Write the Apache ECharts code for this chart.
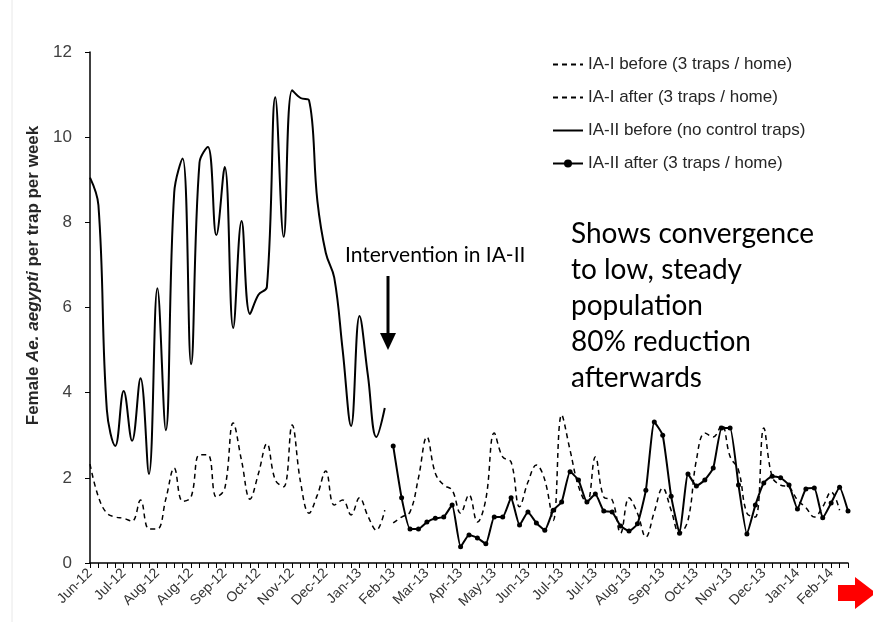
<!DOCTYPE html>
<html>
<head>
<meta charset="utf-8">
<script src="https://cdn.jsdelivr.net/npm/echarts@6/dist/echarts.min.js"></script>
<style>
  html, body { margin: 0; padding: 0; background: #fff; }
  #chart { width: 873px; height: 622px; }
</style>
</head>
<body>
<div id="chart"></div>
<script>
// tick labels, one every 4 weeks
var tickLabels = ['Jun-12', 'Jul-12', 'Aug-12', 'Aug-12', 'Sep-12', 'Oct-12', 'Nov-12', 'Dec-12',
  'Jan-13', 'Feb-13', 'Mar-13', 'Apr-13', 'May-13', 'Jun-13', 'Jul-13', 'Jul-13', 'Aug-13',
  'Sep-13', 'Oct-13', 'Nov-13', 'Dec-13', 'Jan-14', 'Feb-14']
var weekCount = 91

// IA-I before (week 0 - 35)
var iaiBefore = [2.32, 1.55, 1.17, 1.08, 1.05, 0.98, 1.48, 0.8, 0.8, 1.5, 2.23, 1.45, 1.55, 2.54,
  2.54, 1.55, 1.75, 3.29, 2.4, 1.5, 2.1, 2.8, 1.95, 1.79, 3.24, 1.9, 1.17, 1.6, 2.16, 1.36, 1.48,
  1.13, 1.53, 1.1, 0.77, 1.24]
// IA-I after (week 36 - 89)
var iaiAfter = [0.94, 1.08, 1.2, 2.0, 2.96, 2.11, 1.83, 1.71, 1.17, 1.6, 0.96, 1.5, 3.05, 2.49,
  2.37, 1.32, 1.9, 2.3, 1.95, 1.0, 3.48, 2.65, 1.8, 1.4, 2.49, 1.55, 1.48, 0.7, 1.53, 1.17, 0.61,
  1.2, 1.76, 1.24, 0.7, 1.0, 2.42, 3.05, 2.96, 3.24, 2.5, 2.18, 1.17, 1.08, 3.17, 2.02, 1.83, 1.78,
  1.48, 1.3, 1.08, 1.32, 1.67, 1.24]
// IA-II before (week 0 - 35)
var iiBefore = [9.05, 8.4, 3.6, 2.75, 4.04, 2.87, 4.34, 2.09, 6.45, 3.12, 8.7, 9.5, 4.67, 9.4,
  9.77, 7.7, 9.3, 5.52, 8.03, 5.85, 6.3, 6.48, 10.94, 7.66, 11.1, 10.92, 10.87, 8.5, 7.28, 6.7,
  5.0, 3.22, 5.8, 4.4, 2.96, 3.64]
// IA-II after (week 36 - 90)
var iiAfter = [2.75, 1.53, 0.8, 0.8, 0.96, 1.05, 1.08, 1.36, 0.38, 0.66, 0.59, 0.45, 1.08, 1.08,
  1.53, 0.89, 1.2, 0.94, 0.77, 1.24, 1.43, 2.14, 1.95, 1.43, 1.62, 1.22, 1.2, 0.87, 0.75, 0.92,
  1.71, 3.31, 3.0, 1.57, 0.7, 2.09, 1.81, 1.95, 2.23, 3.17, 3.17, 1.83, 0.68, 1.36, 1.88, 2.04,
  2.0, 1.83, 1.27, 1.74, 1.76, 1.06, 1.41, 1.78, 1.22]

var weeks = []
for (var i = 0; i < weekCount; i++) weeks.push('w' + i)

// pad a series with nulls so it starts at the given week
function place(values, start) {
  var out = []
  for (var i = 0; i < weekCount; i++) {
    var k = i - start
    out.push(k >= 0 && k < values.length ? values[k] : null)
  }
  return out
}

var myChart = echarts.init(document.getElementById('chart'))

var dashed = { color: '#000', width: 1.5, type: [5, 4] }
var noDot = { opacity: 0 }

var option = {
  animation: false,
  backgroundColor: '#fff',
  textStyle: { fontFamily: 'Liberation Sans, Arial, sans-serif' },
  grid: { left: 90, right: 25, top: 52, bottom: 59 },
  legend: {
    orient: 'vertical',
    left: 547,
    top: 51,
    itemWidth: 30,
    itemHeight: 10,
    itemGap: 16,
    textStyle: { fontSize: 17, color: '#262626', fontFamily: 'Liberation Sans, Arial, sans-serif' },
    data: [
      { name: 'IA-I before (3 traps / home)', itemStyle: noDot },
      { name: 'IA-I after (3 traps / home)', itemStyle: noDot },
      { name: 'IA-II before (no control traps)', itemStyle: noDot },
      { name: 'IA-II after (3 traps / home)' }
    ]
  },
  xAxis: {
    type: 'category',
    data: weeks,
    boundaryGap: false,
    axisLine: { lineStyle: { color: '#000', width: 1.5 } },
    axisTick: { interval: 0, length: 5, lineStyle: { color: '#000' } },
    axisLabel: {
      interval: 3,
      rotate: 45,
      fontSize: 14,
      color: '#333',
      margin: 8,
      formatter: function (v, idx) { return tickLabels[idx / 4] || '' }
    },
    splitLine: { show: false }
  },
  yAxis: {
    type: 'value',
    min: 0,
    max: 12,
    interval: 2,
    name: '{b|Female }{i|Ae. aegypti}{b| per trap per week}',
    nameLocation: 'middle',
    nameGap: 43,
    nameTextStyle: {
      padding: [0, 0, 0, 64],
      rich: {
        b: { fontSize: 17, fontWeight: 'bold', color: '#262626' },
        i: { fontSize: 17, fontWeight: 'bold', fontStyle: 'italic', color: '#262626' }
      }
    },
    axisLine: { show: true, lineStyle: { color: '#000', width: 1.5 } },
    axisTick: { show: true, length: 5, lineStyle: { color: '#000' } },
    axisLabel: { fontSize: 17, color: '#404040', margin: 18 },
    splitLine: { show: false }
  },
  series: [
    {
      name: 'IA-I before (3 traps / home)',
      type: 'line',
      data: place(iaiBefore, 0),
      smooth: 0.4,
      symbol: 'none',
      lineStyle: dashed,
      itemStyle: { color: '#000' }
    },
    {
      name: 'IA-I after (3 traps / home)',
      type: 'line',
      data: place(iaiAfter, 36),
      smooth: 0.4,
      symbol: 'none',
      lineStyle: dashed,
      itemStyle: { color: '#000' }
    },
    {
      name: 'IA-II before (no control traps)',
      type: 'line',
      data: place(iiBefore, 0),
      smooth: 0.4,
      symbol: 'none',
      lineStyle: { color: '#000', width: 2 },
      itemStyle: { color: '#000' }
    },
    {
      name: 'IA-II after (3 traps / home)',
      type: 'line',
      data: place(iiAfter, 36),
      smooth: 0.15,
      symbol: 'circle',
      symbolSize: 5,
      lineStyle: { color: '#000', width: 2 },
      itemStyle: { color: '#000' }
    }
  ],
  graphic: [
    { type: 'line', shape: { x1: 12, y1: 0, x2: 12, y2: 622 }, style: { stroke: '#e8e8e8', lineWidth: 1 } },
    {
      type: 'text', left: 345, top: 245,
      style: { text: 'Intervention in IA-II', fontSize: 21, fontFamily: 'Lato, sans-serif', fill: '#000' }
    },
    { type: 'line', shape: { x1: 388, y1: 276, x2: 388, y2: 340 }, style: { stroke: '#000', lineWidth: 3 } },
    { type: 'polygon', shape: { points: [[380, 333], [396, 333], [388, 350]] }, style: { fill: '#000' } },
    {
      type: 'text', left: 571, top: 216,
      style: {
        text: 'Shows convergence\nto low, steady\npopulation\n80% reduction\nafterwards',
        fontSize: 28, lineHeight: 36, fontFamily: 'Lato, sans-serif', fill: '#000'
      }
    },
    {
      type: 'polygon',
      shape: { points: [[838, 585], [855, 585], [855, 577], [876, 593], [855, 609], [855, 601], [838, 601]] },
      style: { fill: '#ff0000' }
    }
  ]
}

myChart.setOption(option)
</script>
</body>
</html>
